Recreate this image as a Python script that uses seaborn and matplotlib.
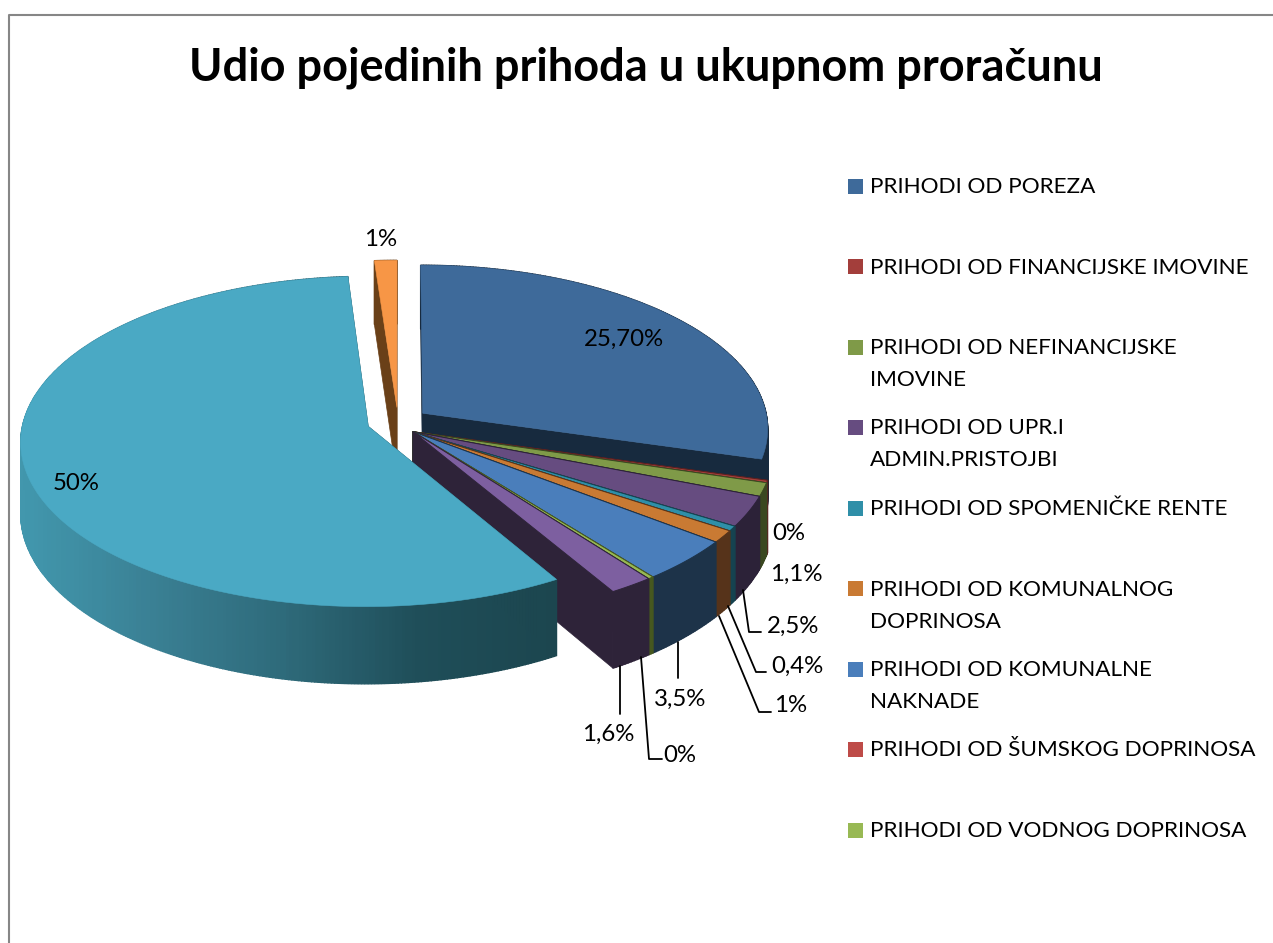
#3D pie: udio pojedinih prihoda u proracunu
import numpy as np
import seaborn as sns
import matplotlib
matplotlib.use('Agg')
import matplotlib.pyplot as plt
from matplotlib.patches import Rectangle

sns.set_theme(style='white')
plt.rcParams['font.family'] = ['Lato', 'DejaVu Sans']

title = 'Udio pojedinih prihoda u ukupnom proračunu'
values = [25.7, 0.2, 1.1, 2.5, 0.4, 1, 3.5, 0.2, 1.6, 50, 1]
labels = ['25,70%', '0%', '1,1%', '2,5%', '0,4%', '1%', '3,5%', '0%', '1,6%', '50%', '1%']
groups = [0, 1, 1, 1, 1, 1, 1, 1, 1, 2, 3]
top_colors = ['#3e6a9a', '#a33e3b', '#7f9a48', '#664c80', '#2f8fa8', '#c97a33',
              '#4a7ebb', '#98b954', '#7d5fa0', '#4aa9c4', '#f79646']
wall_colors = ['#172a3e', '#5a2020', '#3a4820', '#2c2238', '#154350', '#56331a',
               '#1d3349', '#46581f', '#2e2339', '#1c464f', '#6a4018']
legend_names = ['PRIHODI OD POREZA', 'PRIHODI OD FINANCIJSKE IMOVINE',
                'PRIHODI OD NEFINANCIJSKE\nIMOVINE', 'PRIHODI OD UPR.I\nADMIN.PRISTOJBI',
                'PRIHODI OD SPOMENIČKE RENTE', 'PRIHODI OD KOMUNALNOG\nDOPRINOSA',
                'PRIHODI OD KOMUNALNE\nNAKNADE', 'PRIHODI OD ŠUMSKOG DOPRINOSA',
                'PRIHODI OD VODNOG DOPRINOSA']
legend_colors = ['#3e6a9a', '#a33e3b', '#7f9a48', '#664c80', '#2f8fa8', '#c97a33',
                 '#4a7ebb', '#be4b48', '#98b954']

# pozicije (pikseli)
label_pos = [(624, 339), (789, 534), (796, 574), (793, 626), (797, 666), (791, 706),
             (680, 699), (680, 755), (608, 734), (76, 483), (381, 239)]
leaders = {3: [(743, 590), (749, 632), (761, 632)], 4: [(728, 606), (756, 672), (766, 672)],
           5: [(719, 616), (759, 712), (771, 712)], 6: [(678, 642), (678, 678)],
           7: [(641, 657), (649, 759), (662, 759)], 8: [(620, 666), (620, 714)]}
CX, CY, RX, RY, DEPTH, PERSP, EXPL = 398, 422, 345, 163, 70, 0.0909, 0.09
group_shift = {0: (0, 0), 1: (-0.028, -0.004), 2: (0, 0), 3: (0, 0)}
group_radius = {0: 1, 1: 1.035, 2: 1, 3: 1}


def project(x, y, z=0.0):
    w = 1 + PERSP * y
    return CX + RX * x / w, CY - RY * y / w + DEPTH * z / w


fig = plt.figure(figsize=(12.73, 9.43), dpi=100)
ax = fig.add_axes([0, 0, 1, 1])
ax.set_xlim(0, 1273)
ax.set_ylim(943, 0)
ax.axis('off')

ax.plot([8.5, 8.5, 1273], [943, 15, 15], color='#868686', lw=1.5)
ax.text(646, 68, title, ha='center', va='center', fontsize=32.5, fontweight='bold', color='black')

# kutovi kriski
sweep = np.array(values) / sum(values) * 360
ends = 90 - np.cumsum(sweep)
starts = ends + sweep
offsets = {}
for g in set(groups):
    idx = [i for i in range(len(values)) if groups[i] == g]
    mid = np.radians((starts[idx[0]] + ends[idx[-1]]) / 2)
    offsets[g] = (EXPL * np.cos(mid) + group_shift[g][0], EXPL * np.sin(mid) + group_shift[g][1])

big_wall = sns.blend_palette(['#1c464f', '#1f4e59', '#2e6a7a', '#3a8094', '#4298ae'], 120)
order = [10] + list(range(10))
for i in order:
    ox, oy = offsets[groups[i]]
    r = group_radius[groups[i]]
    th = np.radians(np.linspace(starts[i], ends[i], max(int(sweep[i] * 2), 3)))
    xs = ox + r * np.cos(th)
    ys = oy + r * np.sin(th)
    # rezne stijenke
    for ex, ey in [(xs[0], ys[0]), (xs[-1], ys[-1])]:
        px, py = project(np.array([ox, ex, ex, ox]), np.array([oy, ey, ey, oy]), np.array([0, 0, 1, 1]))
        ax.fill(px, py, color=wall_colors[i], lw=0.5)
    # vanjski luk
    for k in range(len(xs) - 1):
        sx = np.array([xs[k], xs[k + 1], xs[k + 1], xs[k]])
        sy = np.array([ys[k], ys[k + 1], ys[k + 1], ys[k]])
        px, py = project(sx, sy, np.array([0, 0, 1, 1]))
        col = wall_colors[i]
        if i == 9:
            pos = np.clip((553 - px.mean()) / 533, 0, 1)
            col = big_wall[int(pos * 119)]
        ax.fill(px, py, color=col, lw=1.0)
    # gornja ploha
    px, py = project(np.r_[ox, xs], np.r_[oy, ys])
    if groups[i] == 1:
        ax.fill(px, py, facecolor=top_colors[i], edgecolor=wall_colors[i], lw=0.7)
    else:
        ax.fill(px, py, color=top_colors[i], lw=0.4)

# oznake
for i, text in enumerate(labels):
    ax.text(label_pos[i][0], label_pos[i][1], text, ha='center', va='center', fontsize=17.3, color='black')
for pts in leaders.values():
    ax.plot([p[0] for p in pts], [p[1] for p in pts], color='black', lw=1.3)

# legenda
for i, name in enumerate(legend_names):
    y0 = 186 + i * 80.5
    ax.add_patch(Rectangle((848, y0 - 7.5), 15, 15, color=legend_colors[i], lw=0))
    ax.text(870, y0 - 9, name, ha='left', va='top', fontsize=16.2, color='black', linespacing=1.75)

fig.savefig('out.png', dpi=100)
